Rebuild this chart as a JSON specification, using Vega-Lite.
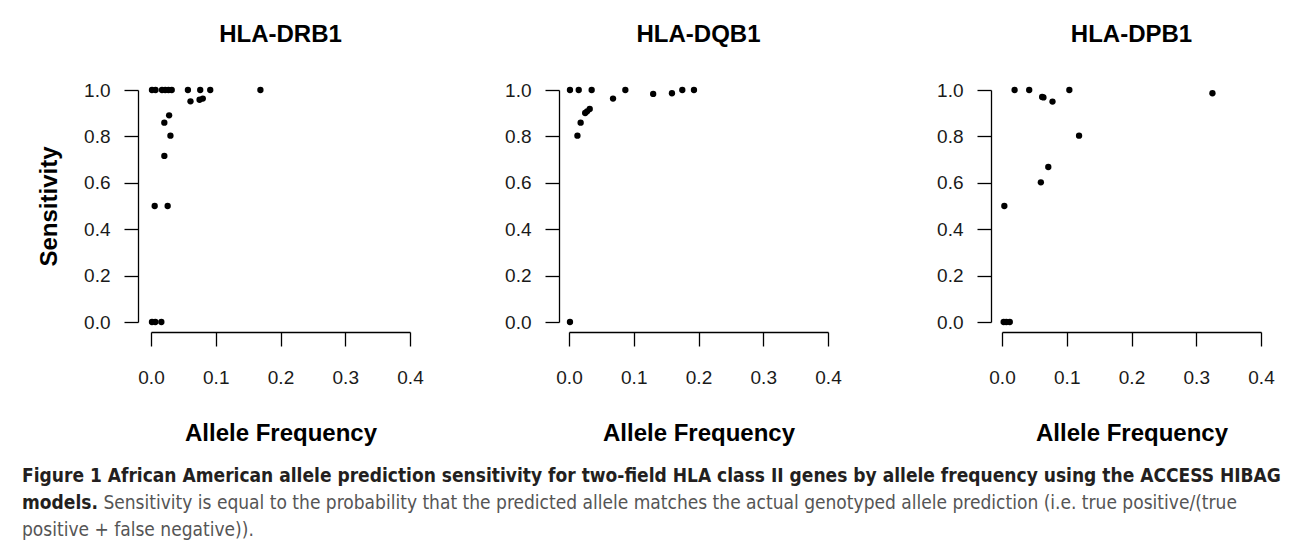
{
  "$schema": "https://vega.github.io/schema/vega-lite/v6.json",
  "background": "white",
  "padding": {"left": 22, "top": 23, "right": 5, "bottom": 2},
  "data": {"values": [
    {"gene": "HLA-DRB1", "freq": 0.0015, "sens": 1},
    {"gene": "HLA-DRB1", "freq": 0.007, "sens": 1},
    {"gene": "HLA-DRB1", "freq": 0.017, "sens": 1},
    {"gene": "HLA-DRB1", "freq": 0.022, "sens": 1},
    {"gene": "HLA-DRB1", "freq": 0.027, "sens": 1},
    {"gene": "HLA-DRB1", "freq": 0.032, "sens": 1},
    {"gene": "HLA-DRB1", "freq": 0.057, "sens": 1},
    {"gene": "HLA-DRB1", "freq": 0.076, "sens": 1},
    {"gene": "HLA-DRB1", "freq": 0.0915, "sens": 1},
    {"gene": "HLA-DRB1", "freq": 0.169, "sens": 1},
    {"gene": "HLA-DRB1", "freq": 0.061, "sens": 0.951},
    {"gene": "HLA-DRB1", "freq": 0.075, "sens": 0.958},
    {"gene": "HLA-DRB1", "freq": 0.08, "sens": 0.963},
    {"gene": "HLA-DRB1", "freq": 0.028, "sens": 0.891},
    {"gene": "HLA-DRB1", "freq": 0.0206, "sens": 0.859},
    {"gene": "HLA-DRB1", "freq": 0.03, "sens": 0.803},
    {"gene": "HLA-DRB1", "freq": 0.0206, "sens": 0.716},
    {"gene": "HLA-DRB1", "freq": 0.0057, "sens": 0.5},
    {"gene": "HLA-DRB1", "freq": 0.0257, "sens": 0.5},
    {"gene": "HLA-DRB1", "freq": 0.0015, "sens": 0},
    {"gene": "HLA-DRB1", "freq": 0.0067, "sens": 0},
    {"gene": "HLA-DRB1", "freq": 0.016, "sens": 0},
    {"gene": "HLA-DQB1", "freq": 0.0015, "sens": 1},
    {"gene": "HLA-DQB1", "freq": 0.015, "sens": 1},
    {"gene": "HLA-DQB1", "freq": 0.035, "sens": 1},
    {"gene": "HLA-DQB1", "freq": 0.013, "sens": 0.803},
    {"gene": "HLA-DQB1", "freq": 0.018, "sens": 0.859},
    {"gene": "HLA-DQB1", "freq": 0.025, "sens": 0.901},
    {"gene": "HLA-DQB1", "freq": 0.028, "sens": 0.908},
    {"gene": "HLA-DQB1", "freq": 0.032, "sens": 0.918},
    {"gene": "HLA-DQB1", "freq": 0.068, "sens": 0.963},
    {"gene": "HLA-DQB1", "freq": 0.087, "sens": 1},
    {"gene": "HLA-DQB1", "freq": 0.13, "sens": 0.983},
    {"gene": "HLA-DQB1", "freq": 0.159, "sens": 0.986},
    {"gene": "HLA-DQB1", "freq": 0.175, "sens": 1},
    {"gene": "HLA-DQB1", "freq": 0.193, "sens": 1},
    {"gene": "HLA-DQB1", "freq": 0.0015, "sens": 0},
    {"gene": "HLA-DPB1", "freq": 0.0026, "sens": 0},
    {"gene": "HLA-DPB1", "freq": 0.0067, "sens": 0},
    {"gene": "HLA-DPB1", "freq": 0.012, "sens": 0},
    {"gene": "HLA-DPB1", "freq": 0.0036, "sens": 0.5},
    {"gene": "HLA-DPB1", "freq": 0.0195, "sens": 1},
    {"gene": "HLA-DPB1", "freq": 0.042, "sens": 1},
    {"gene": "HLA-DPB1", "freq": 0.062, "sens": 0.97},
    {"gene": "HLA-DPB1", "freq": 0.064, "sens": 0.968},
    {"gene": "HLA-DPB1", "freq": 0.078, "sens": 0.95},
    {"gene": "HLA-DPB1", "freq": 0.104, "sens": 1},
    {"gene": "HLA-DPB1", "freq": 0.119, "sens": 0.803},
    {"gene": "HLA-DPB1", "freq": 0.0715, "sens": 0.668},
    {"gene": "HLA-DPB1", "freq": 0.06, "sens": 0.602},
    {"gene": "HLA-DPB1", "freq": 0.325, "sens": 0.986}
  ]},
  "title": {
    "text": ["Figure 1 African American allele prediction sensitivity for two-field HLA class II genes by allele frequency using the ACCESS HIBAG", "models."],
    "subtitle": ["\u200b\u00a0\u00a0\u00a0\u00a0\u00a0\u00a0\u00a0\u00a0\u00a0\u00a0\u00a0\u00a0\u00a0\u00a0\u00a0Sensitivity is equal to the probability that the predicted allele matches the actual genotyped allele prediction (i.e. true positive/(true", "positive + false negative))."],
    "orient": "bottom",
    "anchor": "start",
    "frame": "group",
    "offset": 22,
    "dx": -129,
    "font": "Liberation Sans Narrow, DejaVu Sans Condensed, sans-serif",
    "subtitleFont": "Liberation Sans Narrow, DejaVu Sans Condensed, sans-serif",
    "fontSize": 19,
    "subtitleFontSize": 19,
    "fontWeight": "bold",
    "subtitleFontWeight": "normal",
    "color": "#231f20",
    "subtitleColor": "#555555",
    "lineHeight": 27,
    "subtitleLineHeight": 27,
    "subtitlePadding": -19
  },
  "config": {
    "view": {"stroke": null},
    "title": {"font": "Liberation Sans", "fontSize": 24, "fontWeight": "bold", "color": "#000", "anchor": "middle", "offset": 34},
    "axis": {
      "domainColor": "#000", "domainWidth": 1.3, "tickColor": "#000", "tickWidth": 1.3, "tickSize": 14,
      "labelFont": "Liberation Sans", "labelFontSize": 19, "labelColor": "#1a1a1a",
      "titleFont": "Liberation Sans", "titleFontSize": 24, "titleFontWeight": "bold", "titleColor": "#000",
      "grid": false, "labelFlush": false, "labelOverlap": false
    },
    "axisX": {"labelPadding": 22, "titlePadding": 34, "offset": 10},
    "axisY": {"labelPadding": 14, "titlePadding": 22}
  },
  "hconcat": [
    {
      "width": 259, "height": 232,
      "title": "HLA-DRB1",
      "transform": [{"filter": "datum.gene === 'HLA-DRB1'"}],
      "mark": {"type": "circle", "size": 40, "color": "#000", "opacity": 1},
      "encoding": {
        "x": {"field": "freq", "type": "quantitative", "scale": {"domain": [0, 0.4], "nice": false, "zero": false}, "axis": {"title": "Allele Frequency", "values": [0, 0.1, 0.2, 0.3, 0.4], "format": ".1f"}},
        "y": {"field": "sens", "type": "quantitative", "scale": {"domain": [0, 1], "nice": false}, "axis": {"title": "Sensitivity", "values": [0, 0.2, 0.4, 0.6, 0.8, 1], "format": ".1f", "offset": 13}}
      }
    },
    {
      "spacing": 94,
      "hconcat": [
        {
          "width": 259, "height": 232,
          "title": "HLA-DQB1",
          "transform": [{"filter": "datum.gene === 'HLA-DQB1'"}],
          "mark": {"type": "circle", "size": 40, "color": "#000", "opacity": 1},
          "encoding": {
            "x": {"field": "freq", "type": "quantitative", "scale": {"domain": [0, 0.4], "nice": false, "zero": false}, "axis": {"title": "Allele Frequency", "values": [0, 0.1, 0.2, 0.3, 0.4], "format": ".1f"}},
            "y": {"field": "sens", "type": "quantitative", "scale": {"domain": [0, 1], "nice": false}, "axis": {"title": null, "values": [0, 0.2, 0.4, 0.6, 0.8, 1], "format": ".1f", "offset": 10}}
          }
        },
        {
          "width": 259, "height": 232,
          "title": "HLA-DPB1",
          "transform": [{"filter": "datum.gene === 'HLA-DPB1'"}],
          "mark": {"type": "circle", "size": 40, "color": "#000", "opacity": 1},
          "encoding": {
            "x": {"field": "freq", "type": "quantitative", "scale": {"domain": [0, 0.4], "nice": false, "zero": false}, "axis": {"title": "Allele Frequency", "values": [0, 0.1, 0.2, 0.3, 0.4], "format": ".1f"}},
            "y": {"field": "sens", "type": "quantitative", "scale": {"domain": [0, 1], "nice": false}, "axis": {"title": null, "values": [0, 0.2, 0.4, 0.6, 0.8, 1], "format": ".1f", "offset": 11}}
          }
        }
      ]
    }
  ],
  "spacing": 80
}
